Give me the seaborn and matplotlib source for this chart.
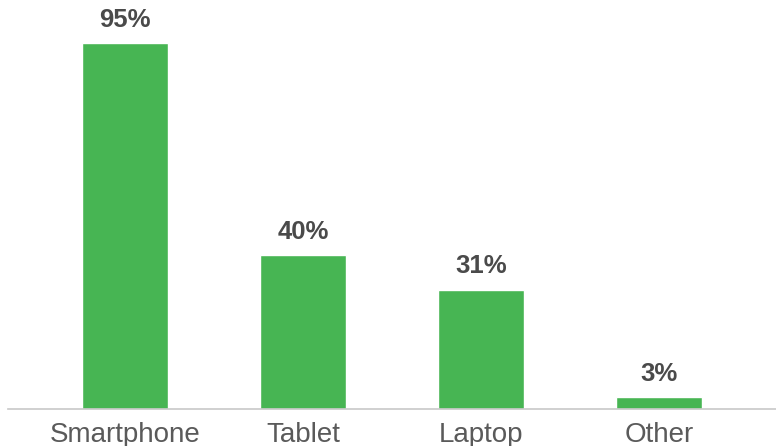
import matplotlib
matplotlib.use("Agg")
import matplotlib.pyplot as plt
import seaborn as sns
import pandas as pd

# datos del grafico
categorias = ["Smartphone", "Tablet", "Laptop", "Other"]
valores = [95, 40, 31, 3]
etiquetas = ["95%", "40%", "31%", "3%"]

df = pd.DataFrame({"dispositivo": categorias, "porcentaje": valores})

sns.set_style("white")
plt.rcParams["font.family"] = ["Liberation Sans", "DejaVu Sans"]

fig = plt.figure(figsize=(7.76, 4.46), dpi=100)
ax = fig.add_axes([8 / 776, 37 / 446, 768 / 776, 409 / 446])

sns.barplot(data=df, x="dispositivo", y="porcentaje", color="#47B553",
            saturation=1, width=0.48, ax=ax)

# etiquetas encima de las barras
for i, (v, txt) in enumerate(zip(valores, etiquetas)):
    ax.text(i, v + 2.9, txt, ha="center", va="bottom", fontsize=18.5,
            fontweight="bold", color="#4a4a4a")

ax.set_xlim(-0.657, 3.657)
ax.set_ylim(0, 106.2)
ax.set_xlabel("")
ax.set_ylabel("")
ax.set_yticks([])
ax.tick_params(axis="x", length=0, pad=9, labelsize=20, labelcolor="#5a5a5a")

for lado in ["top", "right", "left"]:
    ax.spines[lado].set_visible(False)
ax.spines["bottom"].set_color("#c8c8c8")
ax.spines["bottom"].set_linewidth(1.2)

fig.savefig("out.png", dpi=100)
